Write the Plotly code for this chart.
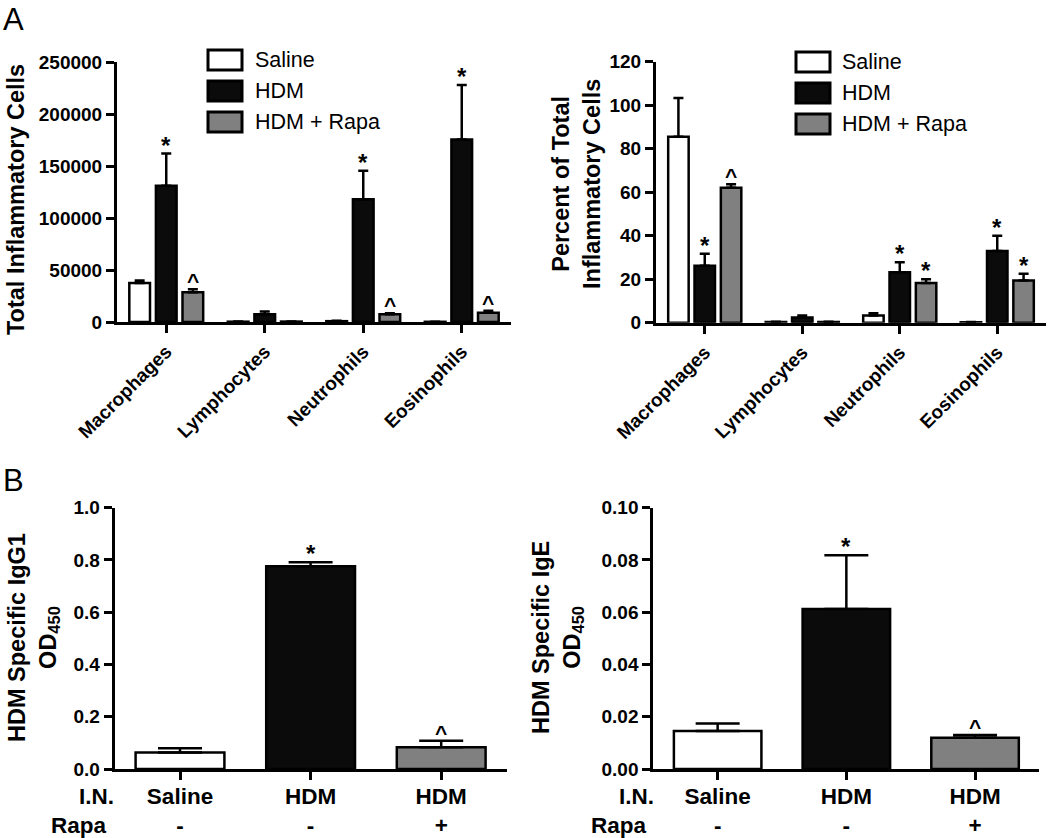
import plotly.graph_objects as go

# ---------------- data ----------------
cells = ["Macrophages", "Lymphocytes", "Neutrophils", "Eosinophils"]
groups = ["Saline", "HDM", "HDM + Rapa"]

saline_total = [37500, 300, 800, 200]
saline_total_err = [2500, 200, 300, 100]
hdm_total = [131000, 7500, 118000, 175500]
hdm_total_err = [31000, 2500, 27500, 52500]
rapa_total = [28500, 400, 7500, 9000]
rapa_total_err = [3000, 200, 1000, 1800]
hdm_total_sig = ["*", "", "*", "*"]
rapa_total_sig = ["^", "", "^", "^"]

saline_pct = [85.5, 0.3, 3.3, 0.2]
saline_pct_err = [17.8, 0.1, 1.0, 0.1]
hdm_pct = [26.2, 2.4, 23.2, 33.0]
hdm_pct_err = [5.5, 0.9, 4.6, 7.0]
rapa_pct = [62.0, 0.3, 18.3, 19.4]
rapa_pct_err = [1.6, 0.1, 1.7, 3.1]
hdm_pct_sig = ["*", "", "*", "*"]
rapa_pct_sig = ["^", "", "*", "*"]

in_labels = ["Saline", "HDM", "HDM"]
rapa_labels = ["-", "-", "+"]
igg1 = [0.063, 0.776, 0.083]
igg1_err = [0.016, 0.015, 0.025]
igg1_sig = ["", "*", "^"]
ige = [0.0145, 0.0612, 0.0120]
ige_err = [0.0029, 0.0206, 0.0010]
ige_sig = ["", "*", "^"]

# ---------------- style ----------------
F = "Liberation Sans, Arial, Helvetica, sans-serif"
W, H = 1050, 838
colors = ["#ffffff", "#0b0b0b", "#808080"]
A_centers = [-0.27, 0.0, 0.27]
A_width = 0.21
B_width = 0.68


def px(x):
    return x / W


def py(y):
    return 1 - y / H


fig = go.Figure()

def add_group_bars(vals, errs, axis_suffix, capw):
    for i, (v, e) in enumerate(zip(vals, errs)):
        fig.add_trace(go.Bar(
            x=list(range(len(v))), y=v,
            width=A_width, offset=A_centers[i] - A_width / 2,
            marker=dict(color=colors[i], line=dict(color="black", width=2.5)),
            error_y=dict(type="data", array=e, arrayminus=[0] * len(e), symmetric=False,
                         color="black", thickness=2.5, width=capw),
            name=groups[i], showlegend=False,
            xaxis="x" + axis_suffix, yaxis="y" + axis_suffix,
        ))

add_group_bars([saline_total, hdm_total, rapa_total],
               [saline_total_err, hdm_total_err, rapa_total_err], "", 5)
add_group_bars([saline_pct, hdm_pct, rapa_pct],
               [saline_pct_err, hdm_pct_err, rapa_pct_err], "2", 5)

for vals, errs, sfx in [(igg1, igg1_err, "3"), (ige, ige_err, "4")]:
    fig.add_trace(go.Bar(
        x=list(range(3)), y=vals, width=B_width, offset=-B_width / 2,
        marker=dict(color=colors, line=dict(color="black", width=2.5)),
        error_y=dict(type="data", array=errs, arrayminus=[0] * 3, symmetric=False,
                     color="black", thickness=2.5, width=22),
        showlegend=False, xaxis="x" + sfx, yaxis="y" + sfx,
    ))

annotations = []

def sig_marks(vals, errs, sigs, center, xref, yref):
    for j, s in enumerate(sigs):
        if s:
            annotations.append(dict(
                x=j + center, y=vals[j] + errs[j], xref=xref, yref=yref,
                text="<b>%s</b>" % s, showarrow=False, yanchor="bottom",
                yshift=-7 if s == "*" else -5,
                font=dict(family=F, size=24 if s == "*" else 21, color="black")))

sig_marks(hdm_total, hdm_total_err, hdm_total_sig, A_centers[1], "x", "y")
sig_marks(rapa_total, rapa_total_err, rapa_total_sig, A_centers[2], "x", "y")
sig_marks(hdm_pct, hdm_pct_err, hdm_pct_sig, A_centers[1], "x2", "y2")
sig_marks(rapa_pct, rapa_pct_err, rapa_pct_sig, A_centers[2], "x2", "y2")
sig_marks(igg1, igg1_err, igg1_sig, 0, "x3", "y3")
sig_marks(ige, ige_err, ige_sig, 0, "x4", "y4")

axis_common = dict(showline=True, linewidth=3, linecolor="black", ticks="outside",
                   ticklen=8, tickwidth=3, tickcolor="black", showgrid=False,
                   zeroline=False, automargin=False,
                   tickfont=dict(family=F, size=19, color="black", weight="bold"))
cat_font = dict(family=F, size=19, color="black", weight="bold")
b_font = dict(family=F, size=22.5, color="black", weight="bold")

fig.update_layout(
    width=W, height=H, autosize=False,
    margin=dict(l=0, r=0, t=0, b=0),
    paper_bgcolor="white", plot_bgcolor="white",
    barmode="overlay", showlegend=False,
    xaxis=dict(axis_common, domain=[px(117), px(511)], anchor="y", range=[-0.5, 3.5],
               tickvals=list(range(4)), ticktext=cells, tickangle=-45, tickfont=cat_font),
    yaxis=dict(axis_common, domain=[py(322), py(62)], anchor="x", range=[0, 250000],
               tickvals=list(range(0, 250001, 50000)), tickformat="d"),
    xaxis2=dict(axis_common, domain=[px(656), px(1046)], anchor="y2", range=[-0.5, 3.5],
                tickvals=list(range(4)), ticktext=cells, tickangle=-45, tickfont=cat_font),
    yaxis2=dict(axis_common, domain=[py(322.7), py(61.7)], anchor="x2", range=[0, 120],
                tickvals=list(range(0, 121, 20))),
    xaxis3=dict(axis_common, domain=[px(114.7), px(506.5)], anchor="y3", range=[-0.5, 2.5],
                tickvals=list(range(3)),
                ticktext=["%s<br>%s" % (a, b) for a, b in zip(in_labels, rapa_labels)],
                tickfont=b_font, ticklabelstandoff=-3),
    yaxis3=dict(axis_common, domain=[py(769), py(507.7)], anchor="x3", range=[0, 1.0],
                tickvals=[0, 0.2, 0.4, 0.6, 0.8, 1.0], tickformat=".1f"),
    xaxis4=dict(axis_common, domain=[px(653.3), px(1039.4)], anchor="y4", range=[-0.5, 2.5],
                tickvals=list(range(3)),
                ticktext=["%s<br>%s" % (a, b) for a, b in zip(in_labels, rapa_labels)],
                tickfont=b_font, ticklabelstandoff=-3),
    yaxis4=dict(axis_common, domain=[py(769), py(507.7)], anchor="x4", range=[0, 0.10],
                tickvals=[0, 0.02, 0.04, 0.06, 0.08, 0.10], tickformat=".2f"),
)

# axis titles
title_font = dict(family=F, size=23.5, color="black", weight="bold")
for text, cx, cy in [
    ("Total Inflammatory Cells", 16, 200),
    ("Percent of Total<br>Inflammatory Cells", 576, 184),
    ("HDM Specific IgG1<br>OD<sub>450</sub>", 33, 638),
    ("HDM Specific IgE<br>OD<sub>450</sub>", 557, 638),
]:
    annotations.append(dict(x=px(cx), y=py(cy), xref="paper", yref="paper", text=text,
                            textangle=-90, showarrow=False, xanchor="center",
                            yanchor="middle", font=title_font))

# row labels for panel B
for x_right in [115, 655]:
    annotations.append(dict(x=px(x_right + 1), y=py(796), xref="paper", yref="paper", text="I.N.",
                            showarrow=False, xanchor="right", yanchor="middle", font=b_font))
    annotations.append(dict(x=px(x_right - 6), y=py(825), xref="paper", yref="paper", text="Rapa",
                            showarrow=False, xanchor="right", yanchor="middle", font=b_font))

# panel letters
for t, x, y in [("A", 13, 0), ("B", 13, 461)]:
    annotations.append(dict(x=px(x), y=py(y), xref="paper", yref="paper", text=t,
                            showarrow=False, xanchor="center", yanchor="top",
                            font=dict(family=F, size=31, color="black")))

# legends
shapes = []
for bx, by0, tx in [(208, 50, 255), (796, 52, 842)]:
    for i, g in enumerate(groups):
        y0 = by0 + i * 31
        shapes.append(dict(type="rect", xref="paper", yref="paper",
                           x0=px(bx), x1=px(bx + 34), y0=py(y0 + 20), y1=py(y0),
                           fillcolor=colors[i], line=dict(color="black", width=3)))
        annotations.append(dict(x=px(tx - 2), y=py(y0 + 10), xref="paper", yref="paper", text=g,
                                showarrow=False, xanchor="left", yanchor="middle",
                                font=dict(family=F, size=21.5, color="black")))

fig.update_layout(annotations=annotations, shapes=shapes)
fig.write_html("out.html", config={"displayModeBar": False},
               post_script="document.body.style.margin='0';document.body.style.overflow='hidden';")
